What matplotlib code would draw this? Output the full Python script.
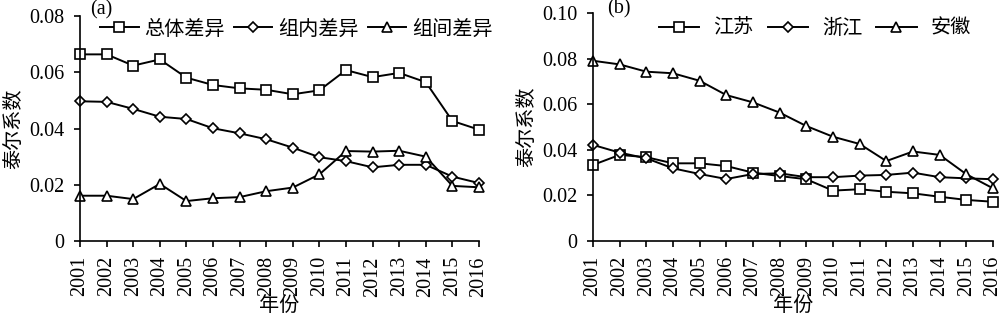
import matplotlib
matplotlib.use("Agg")
import matplotlib.pyplot as plt

plt.rcParams['font.family'] = ['Liberation Serif', 'Noto Sans CJK SC']

# ---- data ----
years = list(range(2001, 2017))

total_diff = [0.0664, 0.0664, 0.0624, 0.0646, 0.0581, 0.0555, 0.0543, 0.0538,
              0.0522, 0.0536, 0.0608, 0.0583, 0.0598, 0.0565, 0.0427, 0.0396]
within_diff = [0.0497, 0.0495, 0.0470, 0.0442, 0.0434, 0.0401, 0.0383, 0.0362,
               0.0332, 0.0298, 0.0284, 0.0262, 0.0271, 0.0271, 0.0229, 0.0206]
between_diff = [0.0161, 0.0161, 0.0149, 0.0203, 0.0142, 0.0152, 0.0156, 0.0177,
                0.0190, 0.0237, 0.0320, 0.0318, 0.0321, 0.0300, 0.0196, 0.0191]

jiangsu = [0.0333, 0.0377, 0.0367, 0.0340, 0.0340, 0.0328, 0.0299, 0.0284,
           0.0270, 0.0220, 0.0226, 0.0215, 0.0208, 0.0193, 0.0179, 0.0171]
zhejiang = [0.0421, 0.0387, 0.0362, 0.0318, 0.0293, 0.0271, 0.0293, 0.0296,
            0.0279, 0.0279, 0.0286, 0.0289, 0.0299, 0.0279, 0.0274, 0.0270]
anhui = [0.0791, 0.0775, 0.0743, 0.0736, 0.0703, 0.0640, 0.0608, 0.0563,
         0.0504, 0.0457, 0.0425, 0.0350, 0.0392, 0.0377, 0.0292, 0.0230]

labels_a = ['总体差异', '组内差异', '组间差异']
labels_b = ['江苏', '浙江', '安徽']
yticks_a = [0, 0.02, 0.04, 0.06, 0.08]
yticks_b = [0, 0.02, 0.04, 0.06, 0.08, 0.10]

markers = ['s', 'D', '^']
msizes = [7.5, 5, 7.5]

FS = 14.5
CJK = 'Noto Sans CJK SC'

fig = plt.figure(figsize=(10, 3.23), dpi=100)
ax1 = fig.add_axes([0.080, 0.254, 0.399, 0.696])
ax2 = fig.add_axes([0.593, 0.255, 0.400, 0.704])


def style(ax, yticks, ylabels):
    for s in ['top', 'right']:
        ax.spines[s].set_visible(False)
    for s in ['left', 'bottom']:
        ax.spines[s].set_linewidth(1.2)
    ax.set_xlim(2001, 2016)
    ax.set_xticks(years)
    ax.set_xticklabels([str(y) for y in years], rotation=90, fontsize=FS)
    ax.set_ylim(yticks[0], yticks[-1])
    ax.set_yticks(yticks)
    ax.set_yticklabels(ylabels, fontsize=FS)
    ax.tick_params(direction='out', length=4, width=1.2)
    ax.tick_params(axis='x', pad=7)
    ax.tick_params(axis='y', pad=7)
    ax.set_xlabel('年份', fontsize=FS, family=CJK, labelpad=-1)
    ax.set_ylabel('泰尔系数', fontsize=FS, family=CJK, labelpad=4)


for series, lab, m, ms in zip([total_diff, within_diff, between_diff], labels_a, markers, msizes):
    ax1.plot(years, series, color='black', lw=1.4, marker=m, ms=ms,
             mfc='white', mec='black', mew=1.2, label=lab, clip_on=False)
style(ax1, yticks_a, ['0', '0.02', '0.04', '0.06', '0.08'])
ax1.legend(loc='upper right', bbox_to_anchor=(1.08, 1.07), ncol=3, frameon=False,
           prop={'family': CJK, 'size': FS},
           handlelength=1.9, handletextpad=0.3, columnspacing=0.45)
ax1.text(0.025, 1.07, '(a)', transform=ax1.transAxes, fontsize=FS, va='top')

for series, lab, m, ms in zip([jiangsu, zhejiang, anhui], labels_b, markers, msizes):
    ax2.plot(years, series, color='black', lw=1.4, marker=m, ms=ms,
             mfc='white', mec='black', mew=1.2, label=lab, clip_on=False)
style(ax2, yticks_b, ['0', '0.02', '0.04', '0.06', '0.08', '0.10'])
ax2.legend(loc='upper right', bbox_to_anchor=(0.99, 1.06), ncol=3, frameon=False,
           prop={'family': CJK, 'size': FS},
           handlelength=2.0, handletextpad=0.7, columnspacing=0.7)
ax2.text(0.035, 1.06, '(b)', transform=ax2.transAxes, fontsize=FS, va='top')

fig.savefig('out.png', dpi=100)
